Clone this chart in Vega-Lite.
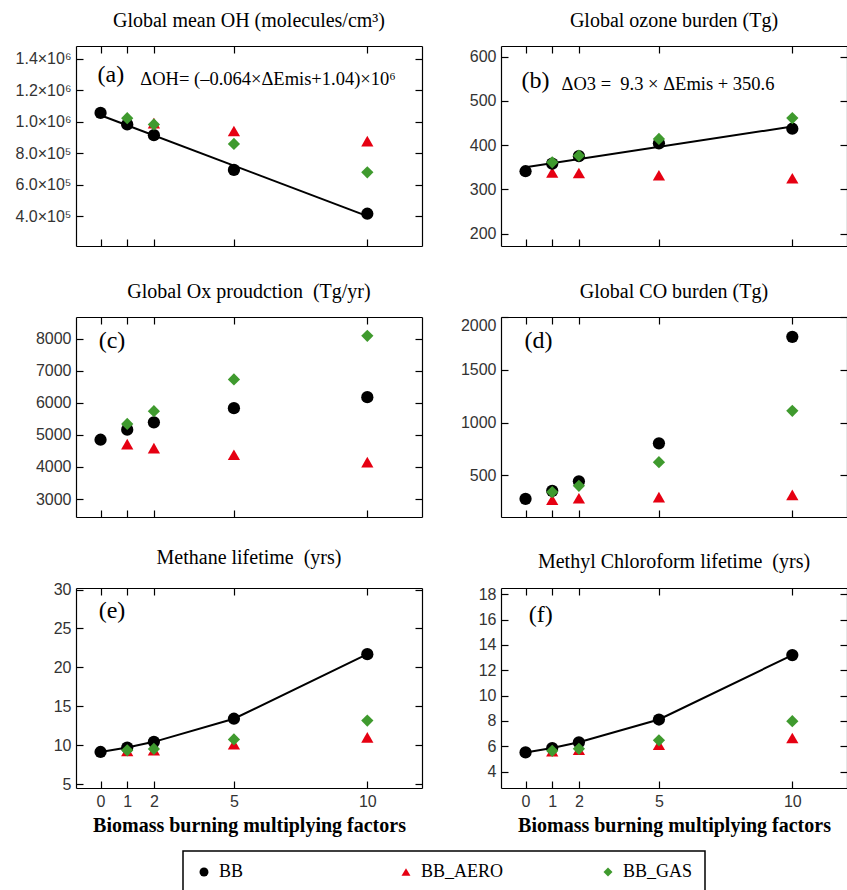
{
  "$schema": "https://vega.github.io/schema/vega-lite/v6.json",
  "background": "white",
  "padding": {"left": 14, "top": 11, "right": 0, "bottom": 0},
  "datasets": {
    "pts": [
      {"p":"a","s":"BB_AERO","x":1,"v":1005000},{"p":"a","s":"BB_AERO","x":2,"v":990000},{"p":"a","s":"BB_AERO","x":5,"v":940000},{"p":"a","s":"BB_AERO","x":10,"v":876000},
      {"p":"a","s":"BB","x":0,"v":1055000},{"p":"a","s":"BB","x":1,"v":982000},{"p":"a","s":"BB","x":2,"v":914000},{"p":"a","s":"BB","x":5,"v":693000},{"p":"a","s":"BB","x":10,"v":415000},
      {"p":"a","s":"BB_GAS","x":1,"v":1022000},{"p":"a","s":"BB_GAS","x":2,"v":982000},{"p":"a","s":"BB_GAS","x":5,"v":858000},{"p":"a","s":"BB_GAS","x":10,"v":678000},
      {"p":"b","s":"BB_AERO","x":1,"v":338},{"p":"b","s":"BB_AERO","x":2,"v":337},{"p":"b","s":"BB_AERO","x":5,"v":332},{"p":"b","s":"BB_AERO","x":10,"v":325},
      {"p":"b","s":"BB","x":0,"v":341},{"p":"b","s":"BB","x":1,"v":358},{"p":"b","s":"BB","x":2,"v":375},{"p":"b","s":"BB","x":5,"v":404},{"p":"b","s":"BB","x":10,"v":437},
      {"p":"b","s":"BB_GAS","x":1,"v":361},{"p":"b","s":"BB_GAS","x":2,"v":376},{"p":"b","s":"BB_GAS","x":5,"v":414},{"p":"b","s":"BB_GAS","x":10,"v":461},
      {"p":"c","s":"BB_AERO","x":1,"v":4711},{"p":"c","s":"BB_AERO","x":2,"v":4586},{"p":"c","s":"BB_AERO","x":5,"v":4377},{"p":"c","s":"BB_AERO","x":10,"v":4148},
      {"p":"c","s":"BB","x":0,"v":4847},{"p":"c","s":"BB","x":1,"v":5160},{"p":"c","s":"BB","x":2,"v":5390},{"p":"c","s":"BB","x":5,"v":5829},{"p":"c","s":"BB","x":10,"v":6173},
      {"p":"c","s":"BB_GAS","x":1,"v":5338},{"p":"c","s":"BB_GAS","x":2,"v":5735},{"p":"c","s":"BB_GAS","x":5,"v":6726},{"p":"c","s":"BB_GAS","x":10,"v":8083},
      {"p":"d","s":"BB_AERO","x":1,"v":268},{"p":"d","s":"BB_AERO","x":2,"v":283},{"p":"d","s":"BB_AERO","x":5,"v":293},{"p":"d","s":"BB_AERO","x":10,"v":315},
      {"p":"d","s":"BB","x":0,"v":277},{"p":"d","s":"BB","x":1,"v":353},{"p":"d","s":"BB","x":2,"v":443},{"p":"d","s":"BB","x":5,"v":803},{"p":"d","s":"BB","x":10,"v":1812},
      {"p":"d","s":"BB_GAS","x":1,"v":341},{"p":"d","s":"BB_GAS","x":2,"v":401},{"p":"d","s":"BB_GAS","x":5,"v":624},{"p":"d","s":"BB_GAS","x":10,"v":1111},
      {"p":"e","s":"BB_AERO","x":1,"v":9.26},{"p":"e","s":"BB_AERO","x":2,"v":9.35},{"p":"e","s":"BB_AERO","x":5,"v":10.13},{"p":"e","s":"BB_AERO","x":10,"v":11.0},
      {"p":"e","s":"BB","x":0,"v":9.13},{"p":"e","s":"BB","x":1,"v":9.7},{"p":"e","s":"BB","x":2,"v":10.43},{"p":"e","s":"BB","x":5,"v":13.4},{"p":"e","s":"BB","x":10,"v":21.7},
      {"p":"e","s":"BB_GAS","x":1,"v":9.35},{"p":"e","s":"BB_GAS","x":2,"v":9.52},{"p":"e","s":"BB_GAS","x":5,"v":10.74},{"p":"e","s":"BB_GAS","x":10,"v":13.17},
      {"p":"f","s":"BB_AERO","x":1,"v":5.6},{"p":"f","s":"BB_AERO","x":2,"v":5.72},{"p":"f","s":"BB_AERO","x":5,"v":6.12},{"p":"f","s":"BB_AERO","x":10,"v":6.65},
      {"p":"f","s":"BB","x":0,"v":5.51},{"p":"f","s":"BB","x":1,"v":5.86},{"p":"f","s":"BB","x":2,"v":6.31},{"p":"f","s":"BB","x":5,"v":8.11},{"p":"f","s":"BB","x":10,"v":13.2},
      {"p":"f","s":"BB_GAS","x":1,"v":5.64},{"p":"f","s":"BB_GAS","x":2,"v":5.8},{"p":"f","s":"BB_GAS","x":5,"v":6.47},{"p":"f","s":"BB_GAS","x":10,"v":7.98}
    ],
    "lines": [
      {"p":"a","x":0,"v":1040000},{"p":"a","x":10,"v":400000},
      {"p":"b","x":0,"v":350},{"p":"b","x":10,"v":442},
      {"p":"e","x":0,"v":9.13},{"p":"e","x":1,"v":9.7},{"p":"e","x":2,"v":10.43},{"p":"e","x":5,"v":13.4},{"p":"e","x":10,"v":21.7},
      {"p":"f","x":0,"v":5.51},{"p":"f","x":1,"v":5.86},{"p":"f","x":2,"v":6.31},{"p":"f","x":5,"v":8.11},{"p":"f","x":10,"v":13.2}
    ],
    "notes": [
      {"p":"a","k":"letter","x":-0.11,"v":1295000,"t":"(a)"},
      {"p":"a","k":"eq","x":1.49,"v":1270000,"t":"ΔOH= (–0.064×ΔEmis+1.04)×10⁶"},
      {"p":"b","k":"letter","x":-0.15,"v":544,"t":"(b)"},
      {"p":"b","k":"eq","x":1.35,"v":538,"t":"ΔO3 =\u00a0 9.3 × ΔEmis + 350.6"},
      {"p":"c","k":"letter","x":-0.07,"v":7915,"t":"(c)"},
      {"p":"d","k":"letter","x":-0.04,"v":1768,"t":"(d)"},
      {"p":"e","k":"letter","x":-0.07,"v":27.3,"t":"(e)"},
      {"p":"f","k":"letter","x":0.12,"v":16.33,"t":"(f)"}
    ]
  },
  "columns": 2,
  "bounds": "flush",
  "spacing": {"row": 71, "column": 79},
  "concat": [
    {
      "width": 346, "height": 200,
      "title": "Global mean OH (molecules/cm³)",
      "layer": [
        {"data":{"name":"lines"},"transform":[{"filter":"datum.p==='a'"}],"mark":{"type":"line","color":"black","strokeWidth":2},
         "encoding":{"x":{"field":"x","type":"quantitative","scale":{"domain":[-0.92,12.05],"nice":false,"zero":false},"axis":null},
                     "y":{"field":"v","type":"quantitative","scale":{"domain":[210000,1480000],"nice":false,"zero":false},"axis":null}}},
        {"data":{"name":"pts"},"transform":[{"filter":"datum.p==='a'"}],"mark":{"type":"point","filled":true,"opacity":1,"size":150},
         "encoding":{"x":{"field":"x","type":"quantitative","scale":{"domain":[-0.92,12.05],"nice":false,"zero":false},"axis":{"orient":"bottom","values":[0,1,2,5,10],"labels":false,"title":null}},
                     "y":{"field":"v","type":"quantitative","scale":{"domain":[210000,1480000],"nice":false,"zero":false},"axis":{"orient":"left","values":[400000,600000,800000,1000000,1200000,1400000],"labelExpr":"datum.value >= 1000000 ? format(datum.value/1000000, '.1f') + '×10⁶' : format(datum.value/100000, '.1f') + '×10⁵'","title":null}},
                     "shape":{"field":"s","type":"nominal","title":null,"scale":{"domain":["BB","BB_AERO","BB_GAS"],"range":["circle","triangle-up","diamond"]},"legend":{"orient":"none","legendX":107,"legendY":805,"symbolSize":80,"encode":{"symbols":{"update":{"size":{"value":80}}}}}},
                     "color":{"field":"s","type":"nominal","title":null,"scale":{"domain":["BB","BB_AERO","BB_GAS"],"range":["#000000","#e60012","#3f9a2e"]},"legend":{"orient":"none","legendX":107,"legendY":805,"symbolSize":80,"encode":{"symbols":{"update":{"size":{"value":80}}}}}}}},
        {"data":{"name":"notes"},"transform":[{"filter":"datum.p==='a'"}],"mark":{"type":"text","align":"left","baseline":"middle","font":"Liberation Serif","color":"black"},
         "encoding":{"x":{"field":"x","type":"quantitative","scale":{"domain":[-0.92,12.05],"nice":false,"zero":false},"axis":{"orient":"top","values":[0,1,2,5,10],"labels":false,"title":null}},
                     "y":{"field":"v","type":"quantitative","scale":{"domain":[210000,1480000],"nice":false,"zero":false},"axis":{"orient":"right","values":[400000,600000,800000,1000000,1200000,1400000],"labels":false,"title":null}},
                     "text":{"field":"t"},
                     "size":{"condition":{"test":"datum.k==='eq'","value":18.5},"value":24}}}
      ],
      "resolve":{"axis":{"x":"independent","y":"independent"}}
    },
    {
      "width": 346, "height": 200,
      "title": "Global ozone burden (Tg)",
      "layer": [
        {"data":{"name":"lines"},"transform":[{"filter":"datum.p==='b'"}],"mark":{"type":"line","color":"black","strokeWidth":2},
         "encoding":{"x":{"field":"x","type":"quantitative","scale":{"domain":[-0.92,12.05],"nice":false,"zero":false},"axis":null},
                     "y":{"field":"v","type":"quantitative","scale":{"domain":[172,624],"nice":false,"zero":false},"axis":null}}},
        {"data":{"name":"pts"},"transform":[{"filter":"datum.p==='b'"}],"mark":{"type":"point","filled":true,"opacity":1,"size":150},
         "encoding":{"x":{"field":"x","type":"quantitative","scale":{"domain":[-0.92,12.05],"nice":false,"zero":false},"axis":{"orient":"bottom","values":[0,1,2,5,10],"labels":false,"title":null}},
                     "y":{"field":"v","type":"quantitative","scale":{"domain":[172,624],"nice":false,"zero":false},"axis":{"orient":"left","values":[200,300,400,500,600],"title":null}},
                     "shape":{"field":"s","type":"nominal","title":null,"scale":{"domain":["BB","BB_AERO","BB_GAS"],"range":["circle","triangle-up","diamond"]},"legend":{"orient":"none","legendX":107,"legendY":805,"symbolSize":80,"encode":{"symbols":{"update":{"size":{"value":80}}}}}},
                     "color":{"field":"s","type":"nominal","title":null,"scale":{"domain":["BB","BB_AERO","BB_GAS"],"range":["#000000","#e60012","#3f9a2e"]},"legend":{"orient":"none","legendX":107,"legendY":805,"symbolSize":80,"encode":{"symbols":{"update":{"size":{"value":80}}}}}}}},
        {"data":{"name":"notes"},"transform":[{"filter":"datum.p==='b'"}],"mark":{"type":"text","align":"left","baseline":"middle","font":"Liberation Serif","color":"black"},
         "encoding":{"x":{"field":"x","type":"quantitative","scale":{"domain":[-0.92,12.05],"nice":false,"zero":false},"axis":{"orient":"top","values":[0,1,2,5,10],"labels":false,"title":null}},
                     "y":{"field":"v","type":"quantitative","scale":{"domain":[172,624],"nice":false,"zero":false},"axis":{"orient":"right","values":[200,300,400,500,600],"labels":false,"title":null}},
                     "text":{"field":"t"},
                     "size":{"condition":{"test":"datum.k==='eq'","value":18.5},"value":24}}}
      ],
      "resolve":{"axis":{"x":"independent","y":"independent"}}
    },
    {
      "width": 346, "height": 200,
      "title": "Global Ox proudction\u00a0 (Tg/yr)",
      "layer": [
        {"data":{"name":"pts"},"transform":[{"filter":"datum.p==='c'"}],"mark":{"type":"point","filled":true,"opacity":1,"size":150},
         "encoding":{"x":{"field":"x","type":"quantitative","scale":{"domain":[-0.92,12.05],"nice":false,"zero":false},"axis":{"orient":"bottom","values":[0,1,2,5,10],"labels":false,"title":null}},
                     "y":{"field":"v","type":"quantitative","scale":{"domain":[2440,8670],"nice":false,"zero":false},"axis":{"orient":"left","values":[3000,4000,5000,6000,7000,8000],"format":"d","title":null}},
                     "shape":{"field":"s","type":"nominal","title":null,"scale":{"domain":["BB","BB_AERO","BB_GAS"],"range":["circle","triangle-up","diamond"]},"legend":{"orient":"none","legendX":107,"legendY":805,"symbolSize":80,"encode":{"symbols":{"update":{"size":{"value":80}}}}}},
                     "color":{"field":"s","type":"nominal","title":null,"scale":{"domain":["BB","BB_AERO","BB_GAS"],"range":["#000000","#e60012","#3f9a2e"]},"legend":{"orient":"none","legendX":107,"legendY":805,"symbolSize":80,"encode":{"symbols":{"update":{"size":{"value":80}}}}}}}},
        {"data":{"name":"notes"},"transform":[{"filter":"datum.p==='c'"}],"mark":{"type":"text","align":"left","baseline":"middle","font":"Liberation Serif","color":"black"},
         "encoding":{"x":{"field":"x","type":"quantitative","scale":{"domain":[-0.92,12.05],"nice":false,"zero":false},"axis":{"orient":"top","values":[0,1,2,5,10],"labels":false,"title":null}},
                     "y":{"field":"v","type":"quantitative","scale":{"domain":[2440,8670],"nice":false,"zero":false},"axis":{"orient":"right","values":[3000,4000,5000,6000,7000,8000],"labels":false,"title":null}},
                     "text":{"field":"t"},
                     "size":{"condition":{"test":"datum.k==='eq'","value":18.5},"value":24}}}
      ],
      "resolve":{"axis":{"x":"independent","y":"independent"}}
    },
    {
      "width": 346, "height": 200,
      "title": "Global CO burden (Tg)",
      "layer": [
        {"data":{"name":"pts"},"transform":[{"filter":"datum.p==='d'"}],"mark":{"type":"point","filled":true,"opacity":1,"size":150},
         "encoding":{"x":{"field":"x","type":"quantitative","scale":{"domain":[-0.92,12.05],"nice":false,"zero":false},"axis":{"orient":"bottom","values":[0,1,2,5,10],"labels":false,"title":null}},
                     "y":{"field":"v","type":"quantitative","scale":{"domain":[105,2000],"nice":false,"zero":false},"axis":{"orient":"left","values":[500,1000,1500,2000],"format":"d","labelFlush":true,"title":null}},
                     "shape":{"field":"s","type":"nominal","title":null,"scale":{"domain":["BB","BB_AERO","BB_GAS"],"range":["circle","triangle-up","diamond"]},"legend":{"orient":"none","legendX":107,"legendY":805,"symbolSize":80,"encode":{"symbols":{"update":{"size":{"value":80}}}}}},
                     "color":{"field":"s","type":"nominal","title":null,"scale":{"domain":["BB","BB_AERO","BB_GAS"],"range":["#000000","#e60012","#3f9a2e"]},"legend":{"orient":"none","legendX":107,"legendY":805,"symbolSize":80,"encode":{"symbols":{"update":{"size":{"value":80}}}}}}}},
        {"data":{"name":"notes"},"transform":[{"filter":"datum.p==='d'"}],"mark":{"type":"text","align":"left","baseline":"middle","font":"Liberation Serif","color":"black"},
         "encoding":{"x":{"field":"x","type":"quantitative","scale":{"domain":[-0.92,12.05],"nice":false,"zero":false},"axis":{"orient":"top","values":[0,1,2,5,10],"labels":false,"title":null}},
                     "y":{"field":"v","type":"quantitative","scale":{"domain":[105,2000],"nice":false,"zero":false},"axis":{"orient":"right","values":[500,1000,1500,2000],"labels":false,"title":null}},
                     "text":{"field":"t"},
                     "size":{"condition":{"test":"datum.k==='eq'","value":18.5},"value":24}}}
      ],
      "resolve":{"axis":{"x":"independent","y":"independent"}}
    },
    {
      "width": 346, "height": 200,
      "title": "Methane lifetime\u00a0 (yrs)",
      "layer": [
        {"data":{"name":"lines"},"transform":[{"filter":"datum.p==='e'"}],"mark":{"type":"line","color":"black","strokeWidth":2},
         "encoding":{"x":{"field":"x","type":"quantitative","scale":{"domain":[-0.92,12.05],"nice":false,"zero":false},"axis":null},
                     "y":{"field":"v","type":"quantitative","scale":{"domain":[4.5,30.2],"nice":false,"zero":false},"axis":null}}},
        {"data":{"name":"pts"},"transform":[{"filter":"datum.p==='e'"}],"mark":{"type":"point","filled":true,"opacity":1,"size":150},
         "encoding":{"x":{"field":"x","type":"quantitative","scale":{"domain":[-0.92,12.05],"nice":false,"zero":false},"axis":{"orient":"bottom","values":[0,1,2,5,10],"title":"Biomass burning multiplying factors"}},
                     "y":{"field":"v","type":"quantitative","scale":{"domain":[4.5,30.2],"nice":false,"zero":false},"axis":{"orient":"left","values":[5,10,15,20,25,30],"title":null}},
                     "shape":{"field":"s","type":"nominal","title":null,"scale":{"domain":["BB","BB_AERO","BB_GAS"],"range":["circle","triangle-up","diamond"]},"legend":{"orient":"none","legendX":107,"legendY":805,"symbolSize":80,"encode":{"symbols":{"update":{"size":{"value":80}}}}}},
                     "color":{"field":"s","type":"nominal","title":null,"scale":{"domain":["BB","BB_AERO","BB_GAS"],"range":["#000000","#e60012","#3f9a2e"]},"legend":{"orient":"none","legendX":107,"legendY":805,"symbolSize":80,"encode":{"symbols":{"update":{"size":{"value":80}}}}}}}},
        {"data":{"name":"notes"},"transform":[{"filter":"datum.p==='e'"}],"mark":{"type":"text","align":"left","baseline":"middle","font":"Liberation Serif","color":"black"},
         "encoding":{"x":{"field":"x","type":"quantitative","scale":{"domain":[-0.92,12.05],"nice":false,"zero":false},"axis":{"orient":"top","values":[0,1,2,5,10],"labels":false,"title":null}},
                     "y":{"field":"v","type":"quantitative","scale":{"domain":[4.5,30.2],"nice":false,"zero":false},"axis":{"orient":"right","values":[5,10,15,20,25,30],"labels":false,"title":null}},
                     "text":{"field":"t"},
                     "size":{"condition":{"test":"datum.k==='eq'","value":18.5},"value":24}}}
      ],
      "resolve":{"axis":{"x":"independent","y":"independent"}}
    },
    {
      "width": 346, "height": 200,
      "title": "Methyl Chloroform lifetime\u00a0 (yrs)",
      "layer": [
        {"data":{"name":"lines"},"transform":[{"filter":"datum.p==='f'"}],"mark":{"type":"line","color":"black","strokeWidth":2},
         "encoding":{"x":{"field":"x","type":"quantitative","scale":{"domain":[-0.92,12.05],"nice":false,"zero":false},"axis":null},
                     "y":{"field":"v","type":"quantitative","scale":{"domain":[2.7,18.5],"nice":false,"zero":false},"axis":null}}},
        {"data":{"name":"pts"},"transform":[{"filter":"datum.p==='f'"}],"mark":{"type":"point","filled":true,"opacity":1,"size":150},
         "encoding":{"x":{"field":"x","type":"quantitative","scale":{"domain":[-0.92,12.05],"nice":false,"zero":false},"axis":{"orient":"bottom","values":[0,1,2,5,10],"title":"Biomass burning multiplying factors"}},
                     "y":{"field":"v","type":"quantitative","scale":{"domain":[2.7,18.5],"nice":false,"zero":false},"axis":{"orient":"left","values":[4,6,8,10,12,14,16,18],"title":null}},
                     "shape":{"field":"s","type":"nominal","title":null,"scale":{"domain":["BB","BB_AERO","BB_GAS"],"range":["circle","triangle-up","diamond"]},"legend":{"orient":"none","legendX":107,"legendY":805,"symbolSize":80,"encode":{"symbols":{"update":{"size":{"value":80}}}}}},
                     "color":{"field":"s","type":"nominal","title":null,"scale":{"domain":["BB","BB_AERO","BB_GAS"],"range":["#000000","#e60012","#3f9a2e"]},"legend":{"orient":"none","legendX":107,"legendY":805,"symbolSize":80,"encode":{"symbols":{"update":{"size":{"value":80}}}}}}}},
        {"data":{"name":"notes"},"transform":[{"filter":"datum.p==='f'"}],"mark":{"type":"text","align":"left","baseline":"middle","font":"Liberation Serif","color":"black"},
         "encoding":{"x":{"field":"x","type":"quantitative","scale":{"domain":[-0.92,12.05],"nice":false,"zero":false},"axis":{"orient":"top","values":[0,1,2,5,10],"labels":false,"title":null}},
                     "y":{"field":"v","type":"quantitative","scale":{"domain":[2.7,18.5],"nice":false,"zero":false},"axis":{"orient":"right","values":[4,6,8,10,12,14,16,18],"labels":false,"title":null}},
                     "text":{"field":"t"},
                     "size":{"condition":{"test":"datum.k==='eq'","value":18.5},"value":24}}}
      ],
      "resolve":{"axis":{"x":"independent","y":"independent"}}
    }
  ],
  "config": {
    "view": {"stroke": null},
    "axis": {"domainColor":"black","domainWidth":1.2,"tickColor":"black","tickWidth":1.2,"tickSize":-7,"labelPadding":12,"labelFont":"Liberation Sans","labelFontSize":16,"labelColor":"#333333","grid":false,
             "titleFont":"Liberation Serif","titleFontSize":20,"titleFontWeight":"bold","titleColor":"black","titlePadding":6},
    "title": {"font":"Liberation Serif","fontSize":20,"fontWeight":"normal","color":"black","offset":14},
    "legend": {"direction":"horizontal","columns":3,"gridAlign":"all","columnPadding":95,"strokeColor":"black","strokeWidth":1.5,"padding":12,"symbolSize":80,
               "labelFont":"Liberation Serif","labelFontSize":18,"labelColor":"black","labelOffset":6}
  }
}
